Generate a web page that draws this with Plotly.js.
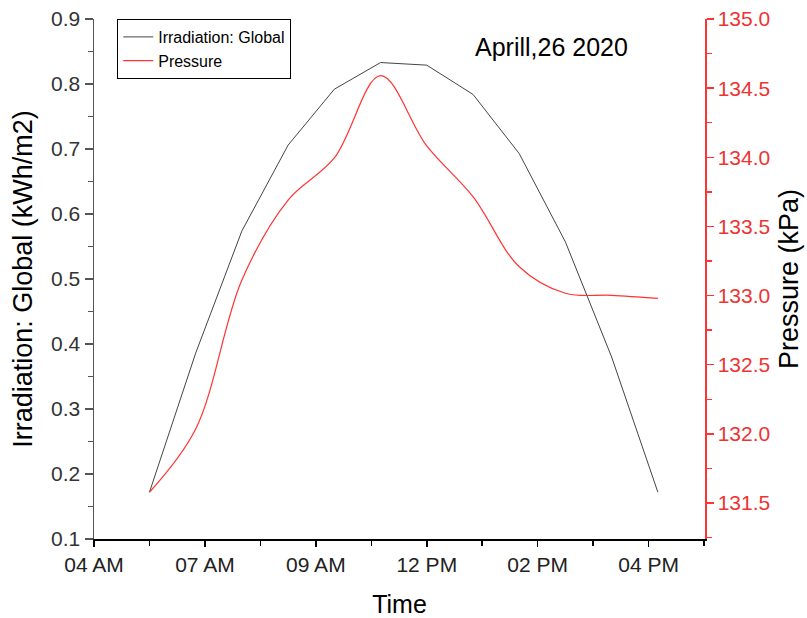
<!DOCTYPE html>
<html>
<head>
<meta charset="utf-8">
<script src="https://cdn.plot.ly/plotly-3.0.1.min.js"></script>
<style>html,body{margin:0;padding:0;background:#fff;}#chart{width:807px;height:618px;}</style>
</head>
<body>
<div id="chart"></div>
<script>
// Data
const hours = [5.2, 6.2, 7.2, 8.2, 9.2, 10.2, 11.2, 12.2, 13.2, 14.2, 15.2, 16.2];
const irradiation = [0.172, 0.386, 0.574, 0.706, 0.792, 0.833, 0.829, 0.784, 0.693, 0.557, 0.380, 0.172];
const pressure = [131.578, 132.035, 133.113, 133.691, 133.995, 134.59, 134.082, 133.715, 133.209, 133.017, 133.002, 132.98];
const xTickVals = [4, 6.4, 8.8, 11.2, 13.6, 16];
const xTickText = ['04 AM', '07 AM', '09 AM', '12 PM', '02 PM', '04 PM'];

const FONT = 'Liberation Sans, Arial, sans-serif';

const traces = [
  {
    x: hours, y: irradiation, type: 'scatter', mode: 'lines',
    name: 'Irradiation: Global',
    line: {color: '#444444', width: 1},
    yaxis: 'y'
  },
  {
    x: hours, y: pressure, type: 'scatter', mode: 'lines',
    name: 'Pressure',
    line: {color: '#ff3333', width: 1.2, shape: 'spline', smoothing: 1},
    yaxis: 'y2'
  }
];

const layout = {
  width: 807, height: 618,
  margin: {l: 94, r: 102, t: 19, b: 79},
  paper_bgcolor: '#ffffff', plot_bgcolor: '#ffffff',
  font: {family: FONT, color: '#000'},
  showlegend: true,
  legend: {
    x: 0.038, y: 1, xanchor: 'left', yanchor: 'top',
    bgcolor: '#ffffff', bordercolor: '#000000', borderwidth: 1,
    font: {family: FONT, size: 16, color: '#000'},
    tracegroupgap: 0
  },
  xaxis: {
    range: [4, 17.22],
    tickmode: 'array', tickvals: xTickVals, ticktext: xTickText,
    ticks: 'outside', ticklen: 6, tickwidth: 1.5, tickcolor: '#000',
    minor: {tickmode: 'linear', tick0: 4, dtick: 1.2, ticks: 'outside', ticklen: 5, tickwidth: 1.5, tickcolor: '#000'},
    showline: true, linecolor: '#000', linewidth: 2,
    showgrid: false, zeroline: false,
    tickfont: {family: FONT, size: 21, color: '#222'},
    title: {text: 'Time', font: {family: FONT, size: 25, color: '#000'}, standoff: 22}
  },
  yaxis: {
    range: [0.1, 0.9],
    tickmode: 'linear', tick0: 0.1, dtick: 0.1,
    ticks: 'outside', ticklen: 8, tickwidth: 1.5, tickcolor: '#555',
    minor: {dtick: 0.05, ticks: 'outside', ticklen: 5, tickwidth: 1.5, tickcolor: '#555'},
    showline: true, linecolor: '#555', linewidth: 1.5,
    showgrid: false, zeroline: false,
    tickformat: '.1f',
    tickfont: {family: FONT, size: 21, color: '#333'},
    title: {text: 'Irradiation: Global (kWh/m2)', font: {family: FONT, size: 27, color: '#000'}, standoff: 10}
  },
  yaxis2: {
    overlaying: 'y', side: 'right',
    range: [131.24, 135.0],
    tickmode: 'linear', tick0: 131.5, dtick: 0.5,
    ticks: 'outside', ticklen: 7, tickwidth: 1.5, tickcolor: '#ff3333',
    minor: {dtick: 0.25, ticks: 'outside', ticklen: 5, tickwidth: 1.5, tickcolor: '#ff3333'},
    showline: true, linecolor: '#ff3333', linewidth: 1.5,
    showgrid: false, zeroline: false,
    tickformat: '.1f',
    tickfont: {family: FONT, size: 21, color: '#ee3333'},
    title: {text: 'Pressure (kPa)', font: {family: FONT, size: 27, color: '#000'}, standoff: 10}
  },
  annotations: [
    {text: 'Aprill,26 2020', xref: 'paper', yref: 'paper', x: 0.748, y: 0.946,
     xanchor: 'center', yanchor: 'middle', showarrow: false,
     font: {family: FONT, size: 25, color: '#000'}}
  ]
};

Plotly.newPlot('chart', traces, layout, {displayModeBar: false, staticPlot: true});
</script>
</body>
</html>
